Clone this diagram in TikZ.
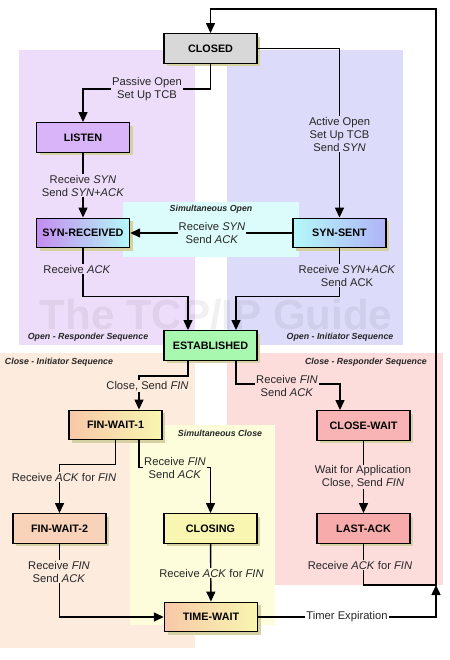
\documentclass[tikz,border=0pt]{standalone}
\usepackage{fontspec}
\setmainfont{Liberation Sans}
\usepackage{tikz}
\usetikzlibrary{arrows.meta,shadows}
\usepackage{xcolor}
\definecolor{purpbg}{HTML}{EEDDFA}
\definecolor{bluebg}{HTML}{DCDCFA}
\definecolor{cyanbg}{HTML}{DCFCFC}
\definecolor{peachbg}{HTML}{FDEBDD}
\definecolor{pinkbg}{HTML}{FDDCDC}
\definecolor{yellowbg}{HTML}{FDFDDC}
\definecolor{shadowc}{HTML}{D6D1A2}
\definecolor{grayst}{HTML}{D8D8D8}
\definecolor{purpst}{HTML}{DAB4F8}
\definecolor{violst}{HTML}{C48CF0}
\definecolor{cyanst}{HTML}{B4F8F8}
\definecolor{bluest}{HTML}{B0B4F8}
\definecolor{greenst}{HTML}{A8F8B0}
\definecolor{peachst}{HTML}{F8C8A8}
\definecolor{yellowst}{HTML}{F8F6B0}
\definecolor{pinkst}{HTML}{F8B4B4}

\begin{document}
\begin{tikzpicture}[x=1pt, y=-1pt,
  stnode/.style={draw=black, line width=1.4pt, minimum width=93pt,
                 minimum height=29.5pt, inner sep=0pt,
                 font=\fontsize{10.8}{12}\selectfont\bfseries,
                 drop shadow={shadow xshift=3pt, shadow yshift=-3pt,
                              fill=shadowc, opacity=1}},
  lbl/.style={align=center, inner sep=1pt,
              font=\fontsize{11.2}{13}\selectfont, text=black!85},
  seclbl/.style={font=\fontsize{8.8}{10}\selectfont\bfseries\itshape,
                 text=black!85},
  >={Triangle[length=10pt,width=9pt]}, line width=1.4pt
]
\useasboundingbox (0,0) rectangle (449,660);
% ---- sequence areas ----
\fill[purpbg]   (19,50)   rectangle (195,345);
\fill[bluebg]   (227,50)  rectangle (403,345);
\fill[cyanbg]   (123,202) rectangle (299,257);
\fill[peachbg]  (0,353)   rectangle (195,648);
\fill[pinkbg]   (227,353) rectangle (443,585);
\fill[yellowbg] (130,425) rectangle (275,625);
\node[font=\fontsize{42}{42}\selectfont\bfseries, text=black, opacity=0.06,
      anchor=base, inner sep=0pt] (wm) at (216,329) {The TCP/IP Guide};

\node[seclbl] (simopen)  at (211,209) {Simultaneous Open};
\node[seclbl] (openresp) at (88,337)  {Open - Responder Sequence};
\node[seclbl] (openinit) at (340,337) {Open - Initiator Sequence};
\node[seclbl] (closeinit) at (59,362) {Close - Initiator Sequence};
\node[seclbl] (closeresp) at (366,362) {Close - Responder Sequence};
\node[seclbl] (simclose) at (220,433) {Simultaneous Close};

% ---- states ----
\node[stnode, fill=grayst]  (closed)    at (210.5,48.5)  {CLOSED};
\node[stnode, fill=purpst]  (listen)    at (83,137.5)    {LISTEN};
\node[stnode, left color=violst, right color=cyanst]
                            (synrcvd)   at (83,233)      {SYN-RECEIVED};
\node[stnode, left color=cyanst, right color=bluest]
                            (synsent)   at (339.5,233)   {SYN-SENT};
\node[stnode, fill=greenst] (estab)     at (210.5,345.5) {ESTABLISHED};
\node[stnode, left color=peachst, right color=yellowst]
                            (finwait1)  at (115.5,425)   {FIN-WAIT-1};
\node[stnode, fill=pinkst]  (closewait) at (363.5,425.5) {CLOSE-WAIT};
\node[stnode, fill=peachst!80!white] (finwait2) at (59.5,528.5) {FIN-WAIT-2};
\node[stnode, fill=yellowst] (closing)  at (210.5,528.5) {CLOSING};
\node[stnode, fill=pinkst!95!red] (lastack) at (363.5,528.5) {LAST-ACK};
\node[stnode, left color=peachst, right color=yellowst]
                            (timewait)  at (211,617)     {TIME-WAIT};

\coordinate (jn)  at (436,585);
\coordinate (top) at (436,9);

% ---- transitions ----
\draw[->] (lastack.south) |- (jn) -- (top) -| (closed.north);
\draw[->] (timewait.east) -| (jn);
\draw[->] (closed.south) -- ++(0,25) -| (listen.north);
\draw[->] (closed.east) -| (synsent.north);
\draw[->] (listen) -- (synrcvd);
\draw[->] (synsent) -- (synrcvd);
\draw[->] (synrcvd.south) -- ++(0,48) -| ([xshift=-22.5pt]estab.north);
\draw[->] (synsent.south) -- ++(0,48) -| ([xshift=25.5pt]estab.north);
\draw[->] ([xshift=-22.5pt]estab.south) -- ++(0,15) -| ([xshift=23.5pt]finwait1.north);
\draw[->] ([xshift=25.5pt]estab.south) -- ++(0,23) -| ([xshift=-23.5pt]closewait.north);
\draw[->] (finwait1.south) -- ++(0,24) -| (finwait2.north);
\draw[->] ([xshift=23.5pt]finwait1.south) -- ++(0,27) -| (closing.north);
\draw[->] (closewait) -- (lastack);
\draw[->] (finwait2.south) |- (timewait.west);
\draw[->] (closing) -- (timewait);

% ---- transition labels ----
\node[lbl, fill=purpbg] (t1) at (147,89) {Passive Open\\Set Up TCB};
\node[lbl, fill=bluebg] (t2) at (339.5,134) {Active Open\\Set Up TCB\\Send \textit{SYN}};
\node[lbl, fill=purpbg] (t3) at (83,185.5) {Receive \textit{SYN}\\Send \textit{SYN+ACK}};
\node[lbl, fill=cyanbg] (t4) at (212,233) {Receive \textit{SYN}\\Send \textit{ACK}};
\node[lbl, fill=purpbg] (t5) at (77,269) {Receive \textit{ACK}};
\node[lbl, fill=bluebg] (t6) at (347,275.5) {Receive \textit{SYN+ACK}\\Send ACK};
\node[lbl, fill=peachbg] (t7) at (147.5,386) {Close, Send \textit{FIN}};
\node[lbl, fill=pinkbg] (t8) at (287,385.5) {Receive \textit{FIN}\\Send \textit{ACK}};
\node[lbl, fill=peachbg] (t9) at (64,477) {Receive \textit{ACK} for \textit{FIN}};
\node[lbl, fill=yellowbg] (t10) at (175,468) {Receive \textit{FIN}\\Send \textit{ACK}};
\node[lbl, fill=pinkbg] (t11) at (363,477) {Wait for Application\\Close, Send \textit{FIN}};
\node[lbl, fill=peachbg] (t12) at (59,571.5) {Receive \textit{FIN}\\Send \textit{ACK}};
\node[lbl, fill=yellowbg] (t13) at (211.5,573) {Receive \textit{ACK} for \textit{FIN}};
\node[lbl, fill=pinkbg] (t14) at (360,565) {Receive \textit{ACK} for \textit{FIN}};
\node[lbl, fill=white] (t15) at (347,617) {Timer Expiration};
\end{tikzpicture}
\end{document}
